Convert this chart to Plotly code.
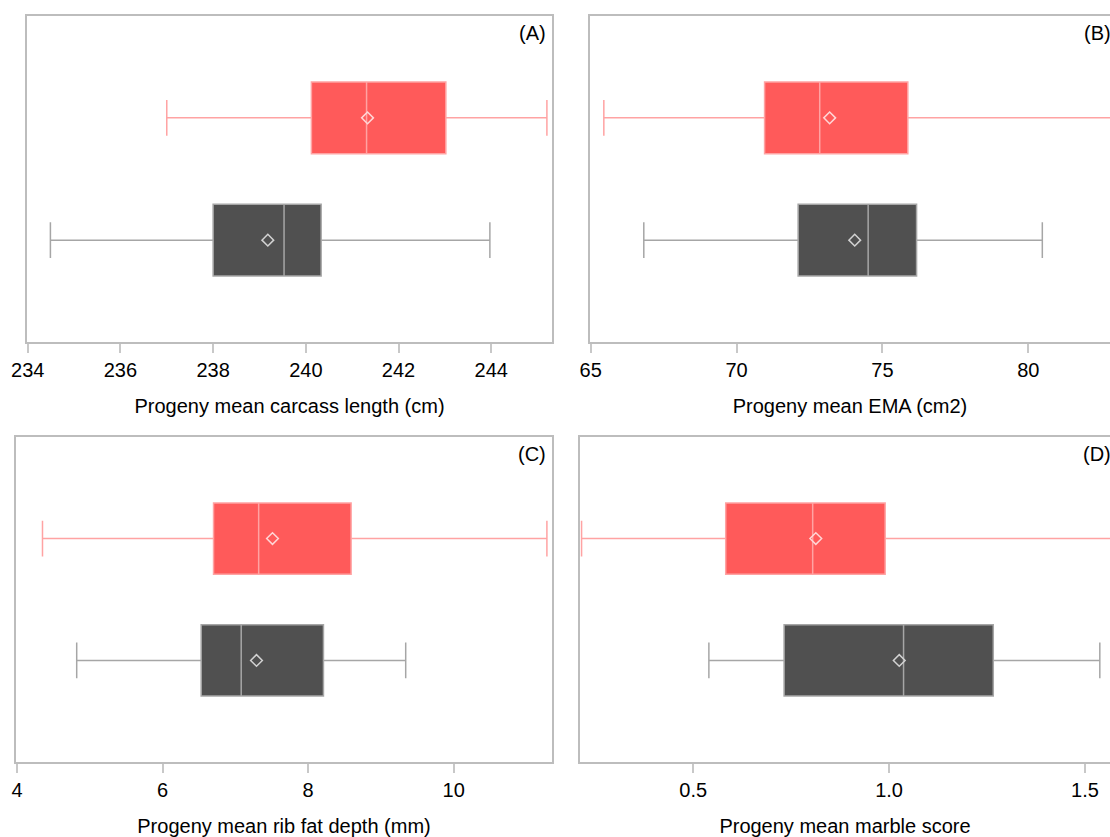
import plotly.graph_objects as go

# ---- data ----
panel_tags = ["(A)", "(B)", "(C)", "(D)"]
axis_titles = [
    "Progeny mean carcass length (cm)",
    "Progeny mean EMA (cm2)",
    "Progeny mean rib fat depth (mm)",
    "Progeny mean marble score",
]

# red group (upper box)
red_low = [237.0, 65.45, 4.35, 0.215]
red_q1 = [240.12, 70.96, 6.70, 0.583]
red_median = [241.31, 72.85, 7.32, 0.805]
red_mean = [241.33, 73.19, 7.51, 0.813]
red_q3 = [243.02, 75.87, 8.59, 0.990]
red_high = [245.2, 83.5, 11.28, 1.60]

# dark group (lower box)
dark_low = [234.49, 66.82, 4.82, 0.540]
dark_q1 = [238.0, 72.11, 6.53, 0.732]
dark_median = [239.53, 74.51, 7.08, 1.037]
dark_mean = [239.18, 74.05, 7.29, 1.026]
dark_q3 = [240.33, 76.17, 8.21, 1.266]
dark_high = [243.97, 80.48, 9.34, 1.538]

x_ranges = [[233.985, 245.31], [64.976, 82.8], [3.986, 11.35], [0.211, 1.564]]
tick_vals = [[234, 236, 238, 240, 242, 244], [65, 70, 75, 80], [4, 6, 8, 10], [0.5, 1.0, 1.5]]
tick_text = [["234", "236", "238", "240", "242", "244"], ["65", "70", "75", "80"],
             ["4", "6", "8", "10"], ["0.5", "1.0", "1.5"]]

# ---- layout geometry ----
W, H = 1110, 837
x_domains = [[27 / W, 552 / W], [590 / W, 1.0], [16 / W, 552 / W], [580 / W, 1.0]]
y_domains = [[1 - 342 / H, 1 - 16 / H], [1 - 342 / H, 1 - 16 / H],
             [1 - 762 / H, 1 - 437 / H], [1 - 762 / H, 1 - 437 / H]]
cut_right = [False, True, False, True]

RED_FILL, RED_LINE, RED_MEAN = "#FF5A5A", "#FFA3A3", "#FFD6D6"
DARK_FILL, DARK_LINE, DARK_MEAN = "#505050", "#A6A6A6", "#D2D2D2"
FONT = "Arial, Liberation Sans, sans-serif"
FS = 20

fig = go.Figure()
layout = dict(
    width=W, height=H, margin=dict(l=0, r=0, t=0, b=0, autoexpand=False),
    paper_bgcolor="white", plot_bgcolor="white", showlegend=False,
    font=dict(family=FONT, size=FS, color="black"),
)
annotations = []

for i in range(4):
    xa = "x" if i == 0 else f"x{i + 1}"
    ya = "y" if i == 0 else f"y{i + 1}"
    groups = [
        (0, dark_low, dark_q1, dark_median, dark_mean, dark_q3, dark_high, DARK_FILL, DARK_LINE, DARK_MEAN),
        (1, red_low, red_q1, red_median, red_mean, red_q3, red_high, RED_FILL, RED_LINE, RED_MEAN),
    ]
    for pos, lo, q1, md, mn, q3, hi, fill, line, meanc in groups:
        fig.add_trace(go.Box(
            y=[pos], q1=[q1[i]], median=[md[i]], q3=[q3[i]],
            lowerfence=[lo[i]], upperfence=[hi[i]],
            orientation="h", width=0.585, whiskerwidth=0.5,
            fillcolor=fill, line=dict(color=line, width=1.5),
            boxpoints=False, xaxis=xa, yaxis=ya, hoverinfo="skip",
        ))
        fig.add_trace(go.Scatter(
            x=[mn[i]], y=[pos], mode="markers",
            marker=dict(symbol="diamond-open", size=9, color=meanc, line=dict(width=1.5, color=meanc)),
            xaxis=xa, yaxis=ya, hoverinfo="skip",
        ))

    key = "xaxis" if i == 0 else f"xaxis{i + 1}"
    ykey = "yaxis" if i == 0 else f"yaxis{i + 1}"
    layout[key] = dict(
        domain=x_domains[i], anchor=ya, range=x_ranges[i], automargin=False,
        tickvals=tick_vals[i], ticktext=tick_text[i],
        showgrid=False, zeroline=False,
        showline=True, linecolor="#BDBDBD", linewidth=1.5, mirror=True,
        ticks="outside", ticklen=9, tickwidth=1.5, tickcolor="#C8C8C8",
        tickfont=dict(family=FONT, size=FS, color="black"),
        title=dict(text=axis_titles[i], font=dict(family=FONT, size=FS, color="black"), standoff=19),
    )
    layout[ykey] = dict(
        domain=y_domains[i], anchor=xa, range=[-0.833, 1.833], automargin=False,
        showticklabels=False, ticks="", showgrid=False, zeroline=False,
        showline=True, linecolor="#BDBDBD", linewidth=1.5,
        mirror=not cut_right[i],
    )
    annotations.append(dict(
        text=panel_tags[i], xref=f"{xa} domain", yref=f"{ya} domain",
        x=1, y=1, xanchor="right", yanchor="middle",
        xshift=(3 if cut_right[i] else -4.5), yshift=-17, showarrow=False,
        font=dict(family=FONT, size=FS, color="black"),
    ))

layout["annotations"] = annotations
fig.update_layout(**layout)
fig.write_html(
    "out.html",
    config={"displayModeBar": False},
    post_script="document.body.style.margin='0px';document.body.style.overflow='hidden';",
)
